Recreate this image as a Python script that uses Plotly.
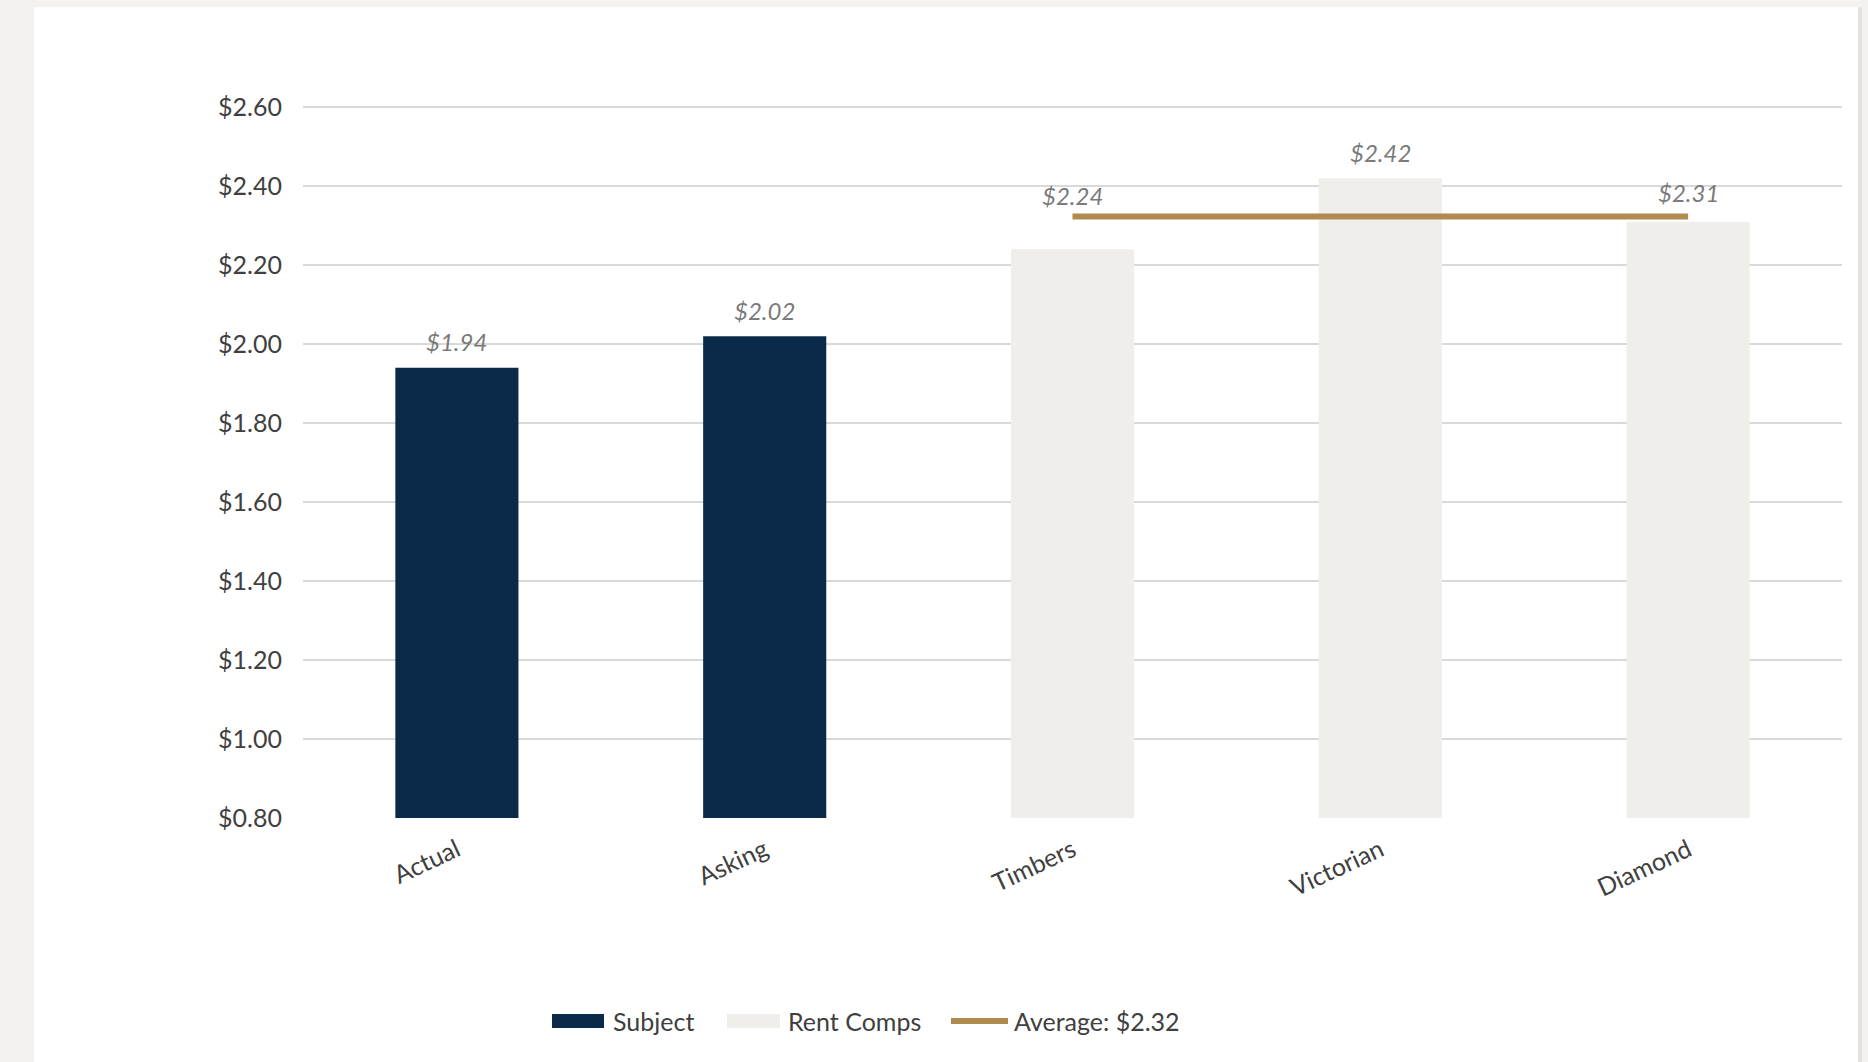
import plotly.graph_objects as go

# ---- data ----
categories = ["Actual", "Asking", "Timbers", "Victorian", "Diamond"]
subject_names = ["Actual", "Asking"]
subject_values = [1.94, 2.02]
comp_names = ["Timbers", "Victorian", "Diamond"]
comp_values = [2.24, 2.42, 2.31]
y_ticks = [0.80, 1.00, 1.20, 1.40, 1.60, 1.80, 2.00, 2.20, 2.40, 2.60]

average = sum(comp_values) / len(comp_values)

# ---- styling ----
W, H = 1868, 1062
PL, PR, PT, PB = 303, 1842, 107, 818   # grid extent in pixels
NAVY = "#0b2a4a"
COMP = "#efeeea"
GOLD = "#b08a4e"
TEXT = "#404040"
LABEL = "#7a7a7a"
FONT = "Lato"

# small headroom so the top gridline is not clipped at the plot edge
PAD = 0.008
PX_PER_UNIT = (PB - PT) / (y_ticks[-1] - y_ticks[0])
TOP = PT - PAD * PX_PER_UNIT
BOT = PB


def fx(px):
    return (px - PL) / (PR - PL)


def fy(py):
    return (BOT - py) / (BOT - TOP)


fig = go.Figure()

fig.add_trace(go.Bar(x=subject_names, y=subject_values, width=0.4,
                     marker=dict(color=NAVY, line=dict(width=0)),
                     name="Subject", showlegend=False, hoverinfo="x+y"))
fig.add_trace(go.Bar(x=comp_names, y=comp_values, width=0.4,
                     marker=dict(color=COMP, line=dict(width=0)),
                     name="Rent Comps", showlegend=False, hoverinfo="x+y"))
fig.add_trace(go.Scatter(x=[comp_names[0], comp_names[-1]], y=[average, average],
                         mode="lines", line=dict(color=GOLD, width=6),
                         name=f"Average: ${average:.2f}", showlegend=False))

# value labels above the bars
label_shift = {"Timbers": 54, "Diamond": 29}
annotations = []
for name, val in list(zip(subject_names, subject_values)) + list(zip(comp_names, comp_values)):
    annotations.append(dict(x=name, y=val, xref="x", yref="y",
                            text=f"<i>${val:.2f}</i>", showarrow=False,
                            yanchor="middle", yshift=label_shift.get(name, 26),
                            font=dict(family=FONT, size=24, color=LABEL)))

# legend drawn by hand: wide swatches like the source deck
LEG_Y = 1021
shapes = []
legend_items = [
    ("rect", NAVY, 552, 604, 611, "Subject"),
    ("rect", COMP, 727, 780, 786, "Rent Comps"),
    ("line", GOLD, 951, 1008, 1012, f"Average: ${average:.2f}"),
]
for kind, color, x0, x1, tx, text in legend_items:
    if kind == "rect":
        shapes.append(dict(type="rect", xref="paper", yref="paper",
                           x0=fx(x0), x1=fx(x1), y0=fy(LEG_Y + 7), y1=fy(LEG_Y - 7),
                           fillcolor=color, line=dict(width=0)))
    else:
        shapes.append(dict(type="line", xref="paper", yref="paper",
                           x0=fx(x0), x1=fx(x1), y0=fy(LEG_Y), y1=fy(LEG_Y),
                           line=dict(color=color, width=6)))
    annotations.append(dict(x=fx(tx), y=fy(LEG_Y), xref="paper", yref="paper",
                            text=text, showarrow=False, xanchor="left", yanchor="middle",
                            font=dict(family=FONT, size=25, color=TEXT)))

# patterned frame around the white panel
FRAME = "#f3f2ee"
for x0, x1, y0, y1 in [(0, 34, 0, H), (0, W, 0, 7), (1858, W, 0, H)]:
    shapes.append(dict(type="rect", xref="paper", yref="paper", layer="below",
                       x0=fx(x0), x1=fx(x1), y0=fy(y1), y1=fy(y0),
                       fillcolor=FRAME, line=dict(width=0)))
shapes.append(dict(type="rect", xref="paper", yref="paper", layer="below",
                   x0=fx(1858), x1=fx(1862), y0=fy(H), y1=fy(7),
                   fillcolor="#e2e1dd", line=dict(width=0)))

fig.update_layout(
    width=W, height=H,
    margin=dict(l=PL, r=W - PR, t=TOP, b=H - BOT, pad=0),
    paper_bgcolor="white", plot_bgcolor="white",
    barmode="overlay",
    showlegend=False,
    font=dict(family=FONT, color=TEXT),
    shapes=shapes,
    annotations=annotations,
    xaxis=dict(categoryorder="array", categoryarray=categories,
               range=[-0.5, len(categories) - 0.5],
               tickangle=-25, tickfont=dict(family=FONT, size=25, color=TEXT),
               showgrid=False, showline=False, zeroline=False, ticks="",
               ticklabelstandoff=12),
    yaxis=dict(range=[y_ticks[0], y_ticks[-1] + PAD], tickvals=y_ticks,
               ticktext=[f"${v:.2f}" for v in y_ticks],
               tickfont=dict(family=FONT, size=25, color=TEXT),
               showgrid=True, gridcolor="#d9d9d9", gridwidth=1.5,
               zeroline=False, showline=False, ticks="",
               ticklabelstandoff=20),
)

fig.write_html("out.html")
